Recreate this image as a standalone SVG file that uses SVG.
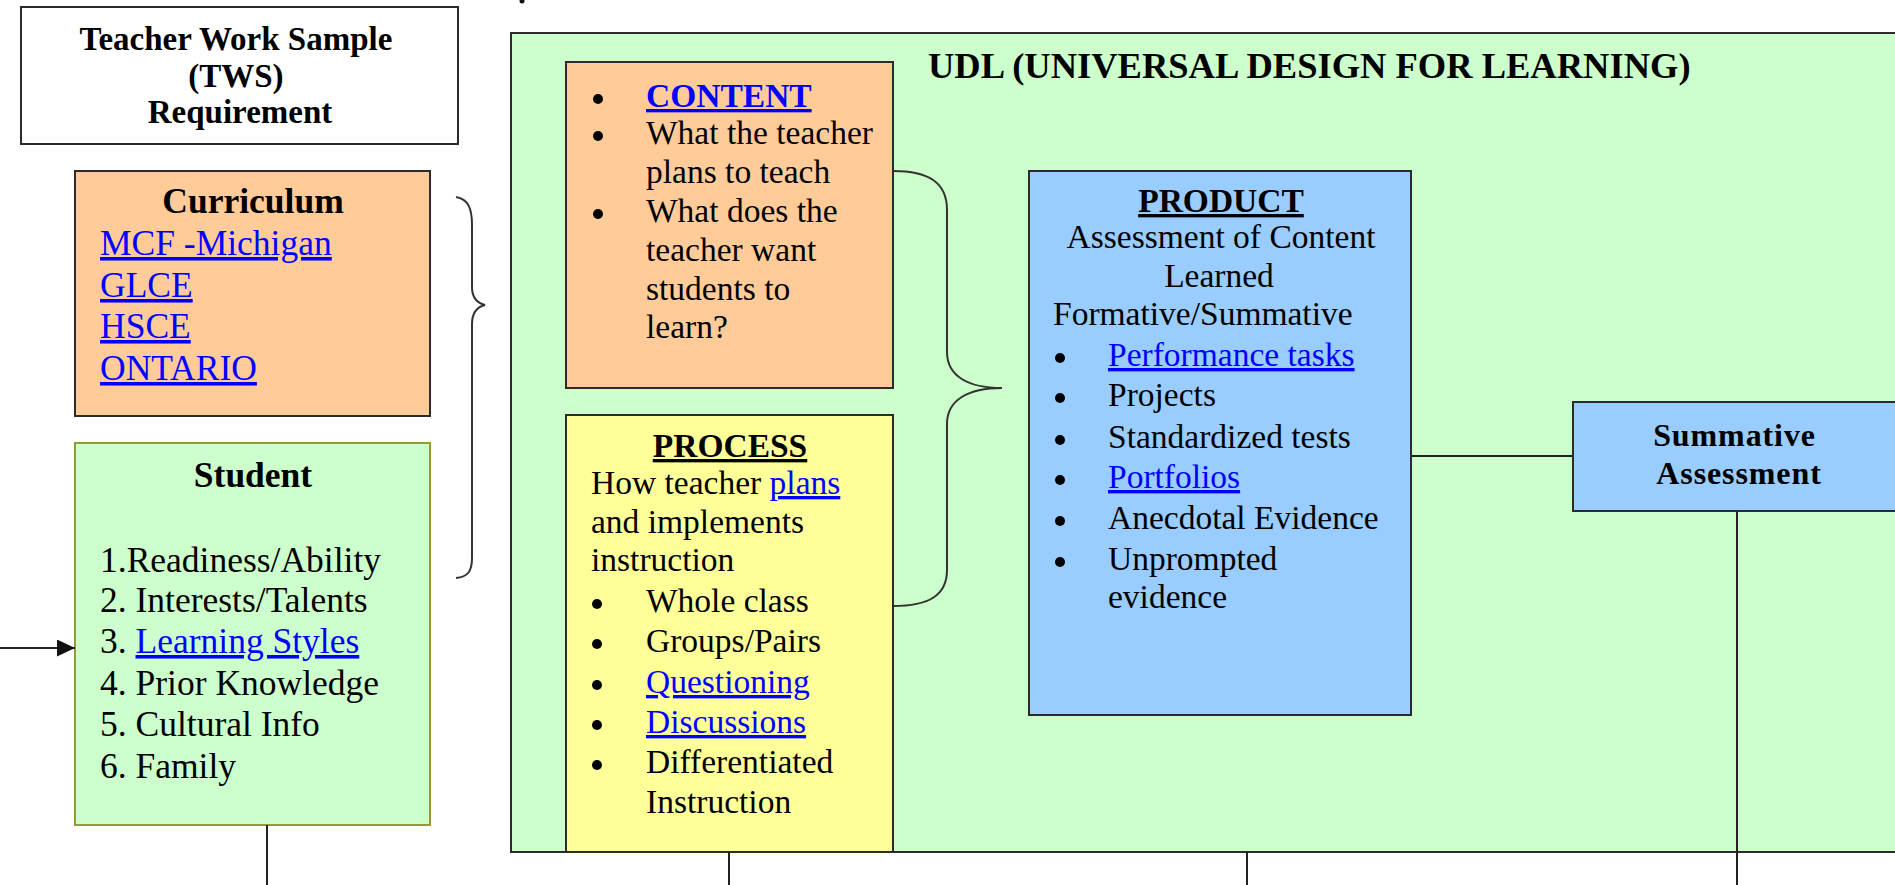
<svg xmlns="http://www.w3.org/2000/svg" width="1895" height="885" viewBox="0 0 1895 885">
  <style>
    text { font-family: "Liberation Serif", "Times New Roman", serif; fill: #000; }
    .b { font-weight: bold; }
    .t33 { font-size: 33px; }
    .t35 { font-size: 35.5px; }
    .t335 { font-size: 33.5px; }
    .link { fill: #0000FF; text-decoration: underline; }
    .ul { text-decoration: underline; }
    .box { stroke: #2b2b2b; stroke-width: 2; }
    .conn { stroke: #222; stroke-width: 2; fill: none; }
    .brace { stroke: #333; stroke-width: 2; fill: none; }
    .peach { fill: #FFCC99; }
    .green { fill: #CCFFCC; }
    .yellow { fill: #FFFF99; }
    .blue { fill: #99CCFF; }
  </style>
  <defs>
    <marker id="arrow" viewBox="0 0 18 17" refX="18" refY="8.5" markerWidth="18" markerHeight="17" markerUnits="userSpaceOnUse" orient="auto">
      <path d="M0,0 L18,8.5 L0,17 Z" fill="#111"/>
    </marker>
  </defs>
  <rect width="1895" height="885" fill="#fff"/>
  <circle cx="522" cy="1" r="2.5" fill="#111"/>

  <g id="udl">
    <rect class="box green" x="511" y="33" width="1420" height="819"/>
    <text class="b" x="928" y="78" font-size="36.5">UDL (UNIVERSAL DESIGN FOR LEARNING)</text>
  </g>

  <g id="tws">
    <rect class="box" x="21" y="7" width="437" height="137" fill="#fff"/>
    <text class="b t33" text-anchor="middle">
      <tspan x="240" y="50">Teacher Work Sample</tspan>
      <tspan x="240" y="87">(TWS)</tspan>
      <tspan x="240" y="123">Requirement</tspan>
    </text>
  </g>

  <g id="curriculum">
    <rect class="box peach" x="75" y="171" width="355" height="245"/>
    <text class="b t35" x="253" y="213" text-anchor="middle">Curriculum</text>
    <text class="t35 link" x="100" y="255">MCF -Michigan</text>
    <text class="t35 link" x="100" y="297">GLCE</text>
    <text class="t35 link" x="100" y="338">HSCE</text>
    <text class="t35 link" x="100" y="380">ONTARIO</text>
  </g>

  <g id="student">
    <rect x="75" y="443" width="355" height="382" fill="#CCFFCC" stroke="#999933" stroke-width="2"/>
    <text class="b t35" x="253" y="487" text-anchor="middle">Student</text>
    <text class="t35" x="100" y="572">1.Readiness/Ability</text>
    <text class="t35" x="100" y="612">2. Interests/Talents</text>
    <text class="t35" x="100" y="653">3. <tspan class="link">Learning Styles</tspan></text>
    <text class="t35" x="100" y="695">4. Prior Knowledge</text>
    <text class="t35" x="100" y="736">5. Cultural Info</text>
    <text class="t35" x="100" y="778">6. Family</text>
  </g>

  <g id="content">
    <rect class="box peach" x="566" y="62" width="327" height="326"/>
    <circle cx="598" cy="99" r="5" fill="#000"/>
    <circle cx="598" cy="136" r="5" fill="#000"/>
    <circle cx="598" cy="214" r="5" fill="#000"/>
    <text class="b t335 link" x="646" y="107">CONTENT</text>
    <text class="t335" x="646" y="144">What the teacher</text>
    <text class="t335" x="646" y="183">plans to teach</text>
    <text class="t335" x="646" y="222">What does the</text>
    <text class="t335" x="646" y="261">teacher want</text>
    <text class="t335" x="646" y="300">students to</text>
    <text class="t335" x="646" y="338">learn?</text>
  </g>

  <g id="process">
    <rect class="box yellow" x="566" y="415" width="327" height="437"/>
    <text class="b t335 ul" x="730" y="457" text-anchor="middle">PROCESS</text>
    <text class="t335" x="591" y="494">How teacher <tspan class="link">plans</tspan></text>
    <text class="t335" x="591" y="533">and implements</text>
    <text class="t335" x="591" y="571">instruction</text>
    <circle cx="597" cy="604" r="5" fill="#000"/>
    <circle cx="597" cy="644" r="5" fill="#000"/>
    <circle cx="597" cy="685" r="5" fill="#000"/>
    <circle cx="597" cy="725" r="5" fill="#000"/>
    <circle cx="597" cy="765" r="5" fill="#000"/>
    <text class="t335" x="646" y="612">Whole class</text>
    <text class="t335" x="646" y="652">Groups/Pairs</text>
    <text class="t335 link" x="646" y="693">Questioning</text>
    <text class="t335 link" x="646" y="733">Discussions</text>
    <text class="t335" x="646" y="773">Differentiated</text>
    <text class="t335" x="646" y="813">Instruction</text>
  </g>

  <g id="product">
    <rect class="box blue" x="1029" y="171" width="382" height="544"/>
    <text class="b t335 ul" x="1221" y="212" text-anchor="middle">PRODUCT</text>
    <text class="t335" x="1221" y="248" text-anchor="middle">Assessment of Content</text>
    <text class="t335" x="1219" y="287" text-anchor="middle">Learned</text>
    <text class="t335" x="1053" y="325">Formative/Summative</text>
    <circle cx="1060" cy="358" r="5" fill="#000"/>
    <circle cx="1060" cy="398" r="5" fill="#000"/>
    <circle cx="1060" cy="440" r="5" fill="#000"/>
    <circle cx="1060" cy="480" r="5" fill="#000"/>
    <circle cx="1060" cy="521" r="5" fill="#000"/>
    <circle cx="1060" cy="562" r="5" fill="#000"/>
    <text class="t335 link" x="1108" y="366">Performance tasks</text>
    <text class="t335" x="1108" y="406">Projects</text>
    <text class="t335" x="1108" y="448">Standardized tests</text>
    <text class="t335 link" x="1108" y="488">Portfolios</text>
    <text class="t335" x="1108" y="529">Anecdotal Evidence</text>
    <text class="t335" x="1108" y="570">Unprompted</text>
    <text class="t335" x="1108" y="608">evidence</text>
  </g>

  <g id="summative">
    <rect class="box blue" x="1573" y="402" width="360" height="109"/>
    <text class="b" font-size="32" letter-spacing="0.9" text-anchor="middle">
      <tspan x="1739" y="446">Summative</tspan>
      <tspan x="1739" y="484">Assessment</tspan>
    </text>
  </g>

  <g id="connectors">
    <path class="brace" d="M456,197 C468,199 472,208 472,225 L472,287 C472,298 477,303 485,305 C477,307 472,312 472,324 L472,558 C472,571 468,577 456,578"/>
    <path class="brace" d="M893,171 C928,171 947,182 947,210 L947,352 C947,376 968,388 1002,388 C968,388 947,400 947,424 L947,570 C947,596 928,606 893,606"/>
    <line class="conn" x1="0" y1="648" x2="75" y2="648" marker-end="url(#arrow)"/>
    <line class="conn" x1="1411" y1="456" x2="1573" y2="456"/>
    <line class="conn" x1="1737" y1="511" x2="1737" y2="885"/>
    <line class="conn" x1="267" y1="825" x2="267" y2="885"/>
    <line class="conn" x1="729" y1="852" x2="729" y2="885"/>
    <line class="conn" x1="1247" y1="852" x2="1247" y2="885"/>
  </g>
</svg>
